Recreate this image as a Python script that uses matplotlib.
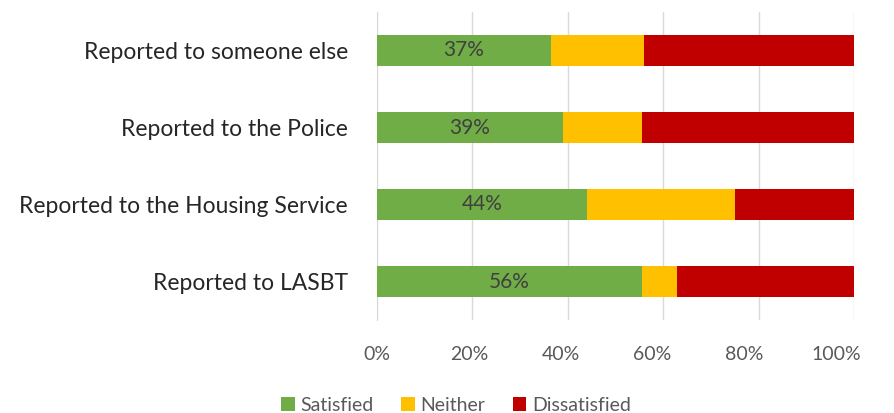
import matplotlib.pyplot as plt
import numpy as np

plt.rcParams['font.family'] = ['Lato', 'DejaVu Sans']

# data (top to bottom as shown)
categories = ['Reported to someone else', 'Reported to the Police',
              'Reported to the Housing Service', 'Reported to LASBT']
satisfied = [36.5, 39.0, 44.1, 55.6]
neither = [19.5, 16.5, 31.0, 7.3]
dissatisfied = [44.0, 44.5, 24.9, 37.1]
sat_labels = ['37%', '39%', '44%', '56%']
pct_ticks = [0, 20, 40, 60, 80, 100]

colors = ['#70AD47', '#FFC000', '#C00000']
names = ['Satisfied', 'Neither', 'Dissatisfied']

fig = plt.figure(figsize=(8.94, 4.13), dpi=100)
ax = fig.add_axes([377 / 894, 1 - 320 / 413, 477 / 894, 308 / 413])

y = np.arange(len(categories))
h = 0.4
left = np.zeros(len(categories))
for vals, c, n in zip([satisfied, neither, dissatisfied], colors, names):
    ax.barh(y, vals, left=left, height=h, color=c, label=n, zorder=3)
    left = left + np.array(vals)

# labels on the green segment
for i, v in enumerate(satisfied):
    ax.text(v / 2, y[i], sat_labels[i], ha='center', va='center',
            fontsize=15, color='#404040', zorder=4)

ax.set_ylim(len(categories) - 0.5, -0.5)
ax.set_xlim(0, 100)
# gridlines on major ticks; labels sit slightly left of the lines, as in the original
ax.xaxis.remove_overlapping_locs = False
ax.set_xticks(pct_ticks)
ax.set_xticklabels([])
ax.set_xticks([t * 0.962 for t in pct_ticks], minor=True)
ax.set_xticklabels([f'{t}%' for t in pct_ticks], minor=True)
ax.set_yticks(y)
ax.set_yticklabels(categories)

ax.grid(axis='x', which='major', color='#D9D9D9', linewidth=1, zorder=0)
for s in ['top', 'right', 'bottom']:
    ax.spines[s].set_visible(False)
ax.spines['left'].set_color('#D9D9D9')
ax.tick_params(axis='both', which='both', length=0)
ax.tick_params(axis='x', which='minor', labelsize=14, labelcolor='#595959', pad=19)
ax.tick_params(axis='y', labelsize=16.5, labelcolor='#262626', pad=21)

fig.legend(loc='lower center', bbox_to_anchor=(0.51, -0.045), ncol=3, frameon=False,
           fontsize=14, labelcolor='#595959', handlelength=0.7, handleheight=0.7,
           handletextpad=0.3, columnspacing=1.4)

plt.savefig('out.png', dpi=100)
